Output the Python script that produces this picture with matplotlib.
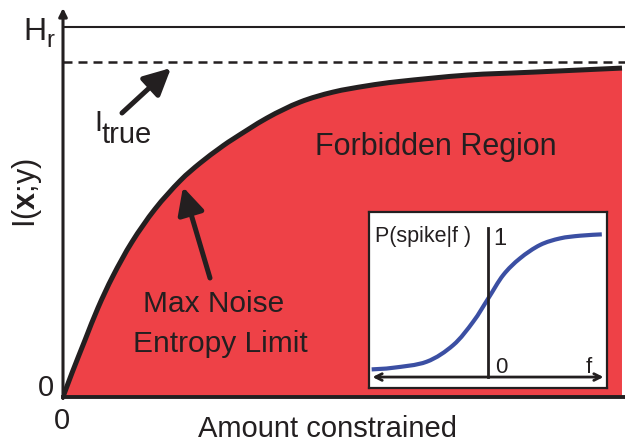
import numpy as np
import matplotlib
matplotlib.use('Agg')
import matplotlib.pyplot as plt
import matplotlib.transforms as mtrans
from matplotlib.path import Path
from matplotlib.patches import PathPatch

# ---- data ----
amount = [0, 0.161, 0.394, 0.626, 0.894, 1.234, 1.646, 2.093, 2.451, 2.809,
          3.041, 3.649, 4.240, 4.830, 5.438, 6.029, 7.227, 8.408, 10.0]
info_limit = [0, 0.065, 0.154, 0.241, 0.327, 0.419, 0.508, 0.584, 0.632, 0.673,
              0.697, 0.754, 0.797, 0.824, 0.841, 0.853, 0.870, 0.878, 0.889]
H_r = 1.0
I_true = 0.905

stim_f = [-1.007, -0.820, -0.531, -0.301, -0.128, 0.003, 0.132, 0.277, 0.450,
          0.623, 0.797, 0.985]
p_spike = [0.051, 0.062, 0.102, 0.213, 0.369, 0.525, 0.680, 0.791, 0.880,
           0.924, 0.942, 0.951]

RED = '#ee4147'
INK = '#231f20'
BLUE = '#3b4fa3'

plt.rcParams['font.family'] = ['Liberation Sans', 'DejaVu Sans']
plt.rcParams['mathtext.fontset'] = 'custom'
plt.rcParams['mathtext.rm'] = 'Liberation Sans'
plt.rcParams['mathtext.bf'] = 'Liberation Sans:bold'


def smooth_path(xs, ys, close_to=None):
    """Catmull-Rom curve through the points, as cubic Bezier path."""
    p = np.column_stack([xs, ys]).astype(float)
    verts = [p[0]]
    codes = [Path.MOVETO]
    n = len(p)
    for i in range(n - 1):
        p0 = p[i - 1] if i > 0 else p[i]
        p1, p2 = p[i], p[i + 1]
        p3 = p[i + 2] if i + 2 < n else p[i + 1]
        verts += [p1 + (p2 - p0) / 6, p2 - (p3 - p1) / 6, p2]
        codes += [Path.CURVE4] * 3
    if close_to is not None:
        verts += [np.array([p[-1][0], close_to]), np.array([p[0][0], close_to]), p[0]]
        codes += [Path.LINETO, Path.LINETO, Path.CLOSEPOLY]
    return Path(np.array(verts), codes)


W, H = 625, 444
fig = plt.figure(figsize=(W / 100, H / 100), dpi=100)
pix = mtrans.Affine2D().scale(1 / W, -1 / H).translate(0, 1) + fig.transFigure

ax = fig.add_axes([63 / W, (H - 397) / H, (W - 63) / W, (397 - 8) / H])
ax.set_xlim(0, 10.054)
ax.set_ylim(0, (397 - 8) / 370)
ax.set_xticks([])
ax.set_yticks([])
for s in ['top', 'right', 'left']:
    ax.spines[s].set_visible(False)
ax.spines['bottom'].set_linewidth(2.8)
ax.spines['bottom'].set_color(INK)
ax.patch.set_alpha(0)

ax.add_patch(PathPatch(smooth_path(amount, info_limit, close_to=0), facecolor=RED,
                       edgecolor='none', lw=0, zorder=1))
ax.add_patch(PathPatch(smooth_path(amount, info_limit), facecolor='none',
                       edgecolor=INK, lw=3.6, capstyle='butt', zorder=3))
ax.axhline(H_r, color=INK, lw=1.5, zorder=2)
ax.axhline(I_true, color=INK, lw=1.8, dashes=(3.6, 2.4), zorder=2)

ax.annotate('', xy=(0, 1.0), xytext=(0, -0.004), xycoords='axes fraction',
            arrowprops=dict(arrowstyle='-|>', lw=2.2, color=INK,
                            mutation_scale=12, shrinkA=0, shrinkB=0),
            annotation_clip=False, zorder=5)

fig.text(23, 40, 'H', transform=pix, fontsize=23, color=INK, ha='left', va='baseline')
fig.text(46, 47, 'r', transform=pix, fontsize=17, color=INK, ha='left', va='baseline')
fig.text(94, 131, 'I', transform=pix, fontsize=21, color=INK, ha='left', va='baseline')
fig.text(101, 143, 'true', transform=pix, fontsize=21, color=INK, ha='left', va='baseline')
fig.text(27, 193, r'I($\mathbf{x}$;y)', transform=pix, fontsize=22, color=INK,
         rotation=90, ha='center', va='center')
fig.text(46, 388, '0', transform=pix, fontsize=21, color=INK, ha='center', va='center')
fig.text(62, 421, '0', transform=pix, fontsize=21, color=INK, ha='center', va='center')
fig.text(328, 437, 'Amount constrained', transform=pix, fontsize=21, color=INK,
         ha='center', va='baseline')
fig.text(436, 155, 'Forbidden Region', transform=pix, fontsize=22, color=INK,
         ha='center', va='baseline')
fig.text(214, 312, 'Max Noise', transform=pix, fontsize=21.5, color=INK,
         ha='center', va='baseline')
fig.text(220, 352, 'Entropy Limit', transform=pix, fontsize=21.5, color=INK,
         ha='center', va='baseline')

arrow_kw = dict(arrowstyle='-|>,head_length=0.9,head_width=0.45', lw=3.6, color=INK,
                mutation_scale=18, shrinkA=0, shrinkB=0)
ax.annotate('', xy=(171, 68), xycoords=pix, xytext=(122, 113), textcoords=pix,
            arrowprops=arrow_kw, zorder=6)
ax.annotate('', xy=(183, 187), xycoords=pix, xytext=(210, 278), textcoords=pix,
            arrowprops=arrow_kw, zorder=6)

# inset
ax2 = fig.add_axes([369 / W, (H - 388) / H, 238 / W, 176 / H])
ax2.set_xlim(-1.03, 1.03)
ax2.set_ylim(-0.073, 1.1)
ax2.set_xticks([])
ax2.set_yticks([])
ax2.set_facecolor('white')
for s in ax2.spines.values():
    s.set_linewidth(1.6)
    s.set_color(INK)
ax2.add_patch(PathPatch(smooth_path(stim_f, p_spike), facecolor='none',
                        edgecolor=BLUE, lw=3.0, zorder=3))
ax2.plot([0, 0], [0, 0.993], color=INK, lw=2.0, zorder=4)
ax2.annotate('', xy=(1.0, 0), xytext=(-1.0, 0),
             arrowprops=dict(arrowstyle='<->', lw=2.0, color=INK,
                             mutation_scale=12, shrinkA=0, shrinkB=0), zorder=4)

fig.text(375, 242, 'P(spike|f )', transform=pix, fontsize=15.5, color=INK,
         ha='left', va='baseline')
fig.text(493, 245, '1', transform=pix, fontsize=17, color=INK, ha='left', va='baseline')
fig.text(495, 373, '0', transform=pix, fontsize=16, color=INK, ha='left', va='baseline')
fig.text(586, 373, 'f', transform=pix, fontsize=16, color=INK, ha='left', va='baseline')

fig.savefig('out.png', dpi=100)
